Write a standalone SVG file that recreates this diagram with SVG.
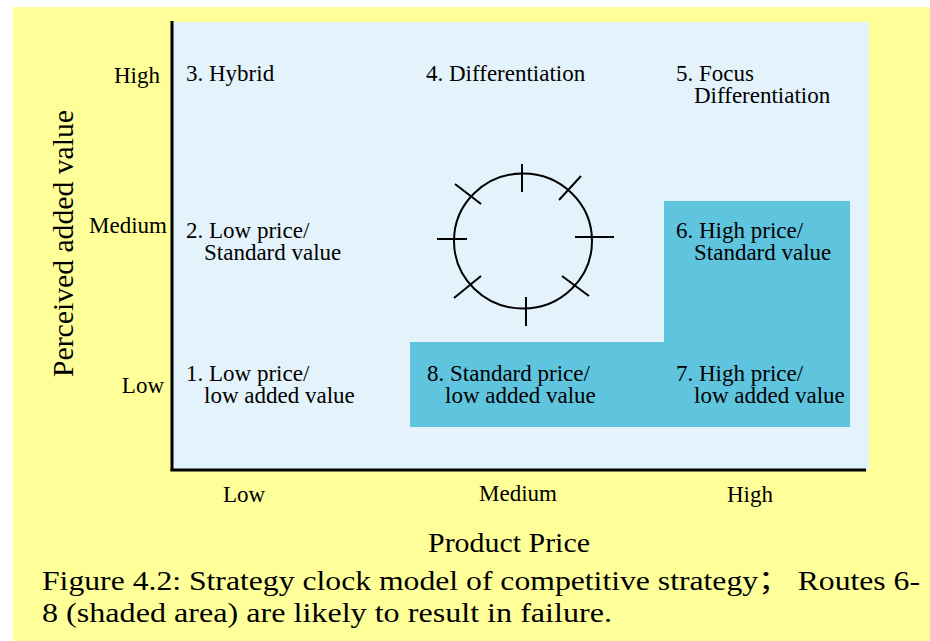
<svg xmlns="http://www.w3.org/2000/svg" width="930" height="641" viewBox="0 0 930 641">
<style>
.t{font-family:"Liberation Serif","Times New Roman",serif;font-size:23px;fill:#000}
.ax{stroke:#000;stroke-width:3;fill:none}
.clk{stroke:#000;stroke-width:2;fill:none}
.cap{font-family:"Liberation Serif","Noto Sans CJK SC",serif;font-size:27px;fill:#000}
</style>
<rect x="0" y="0" width="930" height="641" fill="#ffffff"/>
<rect x="13" y="7" width="917" height="634" fill="#ffff99"/>
<rect x="172" y="22" width="697" height="448" fill="#e4f3fb"/>
<g id="shaded">
<polygon points="410,342 664,342 664,201 850,201 850,427 410,427" fill="#5fc4de"/>
</g>
<g id="axes">
<line class="ax" x1="172" y1="21" x2="172" y2="471"/>
<line class="ax" x1="170.5" y1="470" x2="866" y2="470"/>
</g>
<g id="y-labels">
<text class="t" x="160" y="83" text-anchor="end">High</text>
<text class="t" x="167" y="233" text-anchor="end">Medium</text>
<text class="t" x="164" y="393" text-anchor="end">Low</text>
<text class="t" transform="translate(73,243.5) rotate(-90)" text-anchor="middle" style="font-size:30px" textLength="267" lengthAdjust="spacingAndGlyphs">Perceived added value</text>
</g>
<g id="x-labels">
<text class="t" x="244" y="502" text-anchor="middle">Low</text>
<text class="t" x="518" y="501" text-anchor="middle">Medium</text>
<text class="t" x="750" y="502" text-anchor="middle">High</text>
<text class="t" x="509" y="552" text-anchor="middle" style="font-size:27px" textLength="162" lengthAdjust="spacingAndGlyphs">Product Price</text>
</g>
<g id="route3"><text class="t" x="186" y="81">3. Hybrid</text></g>
<g id="route4"><text class="t" x="426" y="81">4. Differentiation</text></g>
<g id="route5"><text class="t" x="676" y="81">5. Focus</text><text class="t" x="694" y="103">Differentiation</text></g>
<g id="route2"><text class="t" x="186" y="238">2. Low price/</text><text class="t" x="204" y="260">Standard value</text></g>
<g id="route6"><text class="t" x="676" y="238">6. High price/</text><text class="t" x="694" y="260">Standard value</text></g>
<g id="route1"><text class="t" x="186" y="381">1. Low price/</text><text class="t" x="204" y="403">low added value</text></g>
<g id="route8"><text class="t" x="427" y="381">8. Standard price/</text><text class="t" x="445" y="403">low added value</text></g>
<g id="route7"><text class="t" x="676" y="381">7. High price/</text><text class="t" x="694" y="403">low added value</text></g>
<g id="clock">
<ellipse class="clk" cx="523" cy="241" rx="69" ry="67.5"/>
<line class="clk" x1="522" y1="164" x2="522" y2="192"/>
<line class="clk" x1="526" y1="297" x2="526" y2="326"/>
<line class="clk" x1="437" y1="239" x2="467" y2="239"/>
<line class="clk" x1="575" y1="237" x2="614" y2="237"/>
<line class="clk" x1="455" y1="184" x2="481" y2="204"/>
<line class="clk" x1="581" y1="176" x2="559" y2="200"/>
<line class="clk" x1="454" y1="298" x2="481" y2="276"/>
<line class="clk" x1="562" y1="276" x2="589" y2="296"/>
</g>
<g id="caption">
<text class="cap" x="42" y="590" textLength="878" lengthAdjust="spacingAndGlyphs">Figure 4.2:  Strategy clock model of competitive strategy；  Routes 6-</text>
<text class="cap" x="42" y="622" textLength="570" lengthAdjust="spacingAndGlyphs">8 (shaded area) are likely to result in failure.</text>
</g>
</svg>
